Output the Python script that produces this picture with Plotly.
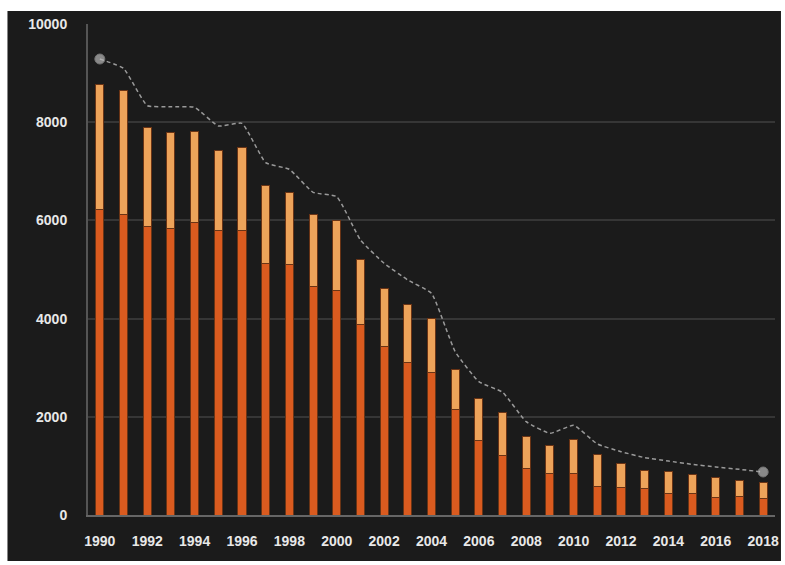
import plotly.graph_objects as go

years = [str(y) for y in range(1990, 2019)]
lower = [6226, 6130, 5886, 5845, 5954, 5798, 5798, 5132, 5106, 4650,
         4576, 3884, 3428, 3116, 2912, 2145, 1514, 1202, 943, 855,
         855, 584, 564, 536, 448, 428, 360, 380, 339]
totals = [8778, 8650, 7902, 7794, 7814, 7427, 7495, 6707, 6572, 6124,
          6008, 5200, 4609, 4291, 3998, 2967, 2363, 2091, 1589, 1412,
          1541, 1236, 1052, 910, 889, 828, 754, 706, 665]
upper = [t - l for t, l in zip(totals, lower)]
line_vals = [9287, 9097, 8337, 8316, 8303, 7923, 7977, 7176, 7040, 6572,
             6483, 5601, 5126, 4786, 4515, 3326, 2715, 2500, 1900, 1663,
             1826, 1446, 1290, 1168, 1100, 1032, 978, 930, 876]
x_ticks = [str(y) for y in range(1990, 2019, 2)]
y_ticks = [0, 2000, 4000, 6000, 8000, 10000]
y_tick_text = [str(v) for v in y_ticks]

W, H = 785, 565
L, R, T, B = 88, 6, 24, 50
pw, ph = W - L - R, H - T - B

fig = go.Figure()
fig.add_trace(go.Bar(x=years, y=lower, marker=dict(color="#DA5B1F", line=dict(color="#6a3415", width=1)),
                     showlegend=False))
fig.add_trace(go.Bar(x=years, y=upper, marker=dict(color="#EDA35A", line=dict(color="#6a3415", width=1)),
                     showlegend=False))
marker_sizes = [10] + [0] * (len(years) - 2) + [10]
fig.add_trace(go.Scatter(x=years, y=line_vals, mode="lines+markers",
                         line=dict(color="#9a9a9a", width=1.5, dash="4px,3px", shape="spline", smoothing=0.4),
                         marker=dict(size=marker_sizes, color="#b8b8b8"),
                         showlegend=False))

# dark panel inside a thin white frame, as in the reference
px0, px1, py_top, py_bot = 7, 785, 11, 561
fig.add_shape(type="rect", xref="paper", yref="paper",
              x0=(px0 - L) / pw, x1=(px1 - L) / pw,
              y0=(H - B - py_bot) / ph, y1=(H - B - py_top) / ph,
              fillcolor="#1b1b1b", line=dict(width=0), layer="below")

tick_font = dict(size=14, color="#e8e8e8", family="Liberation Sans, Arial", weight="bold")
fig.update_layout(
    width=W, height=H,
    margin=dict(l=L, r=R, t=T, b=B),
    paper_bgcolor="white", plot_bgcolor="#1b1b1b",
    barmode="stack", bargap=0.66,
    font=dict(family="Liberation Sans, Arial", size=13, color="#e8e8e8"),
    xaxis=dict(type="category", range=[-0.5, len(years) - 0.5], tickvals=x_ticks, ticktext=x_ticks,
               showgrid=False, showline=True, linecolor="#666666", linewidth=2, ticks="",
               tickfont=tick_font, ticklabelstandoff=12),
    yaxis=dict(range=[0, 10000], tickvals=y_ticks, ticktext=y_tick_text, showgrid=True,
               gridcolor="#363636", gridwidth=2,
               showline=True, linecolor="#555555", linewidth=2, zeroline=False, ticks="",
               tickfont=tick_font, ticklabelstandoff=16),
)

fig.write_html("out.html", config={"displayModeBar": False},
               post_script="document.body.style.margin='0px';document.body.style.overflow='hidden';")
